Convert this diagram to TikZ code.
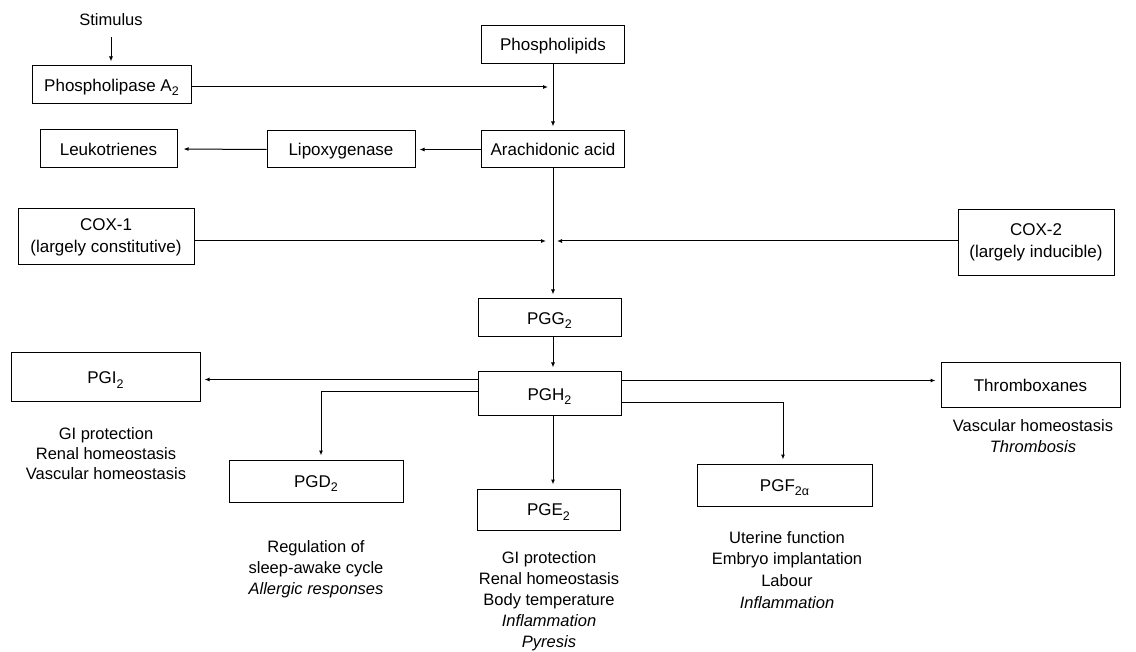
\documentclass[tikz,border=0pt]{standalone}
\usepackage{fontspec}
\setmainfont{Liberation Sans}
\usetikzlibrary{arrows.meta}
\newcommand\subs[1]{\raisebox{-4.5pt}{\fontsize{12.5}{13}\selectfont #1}}
\begin{document}
\begin{tikzpicture}[x=1pt,y=-1pt,
  box/.style={draw, line width=1pt, inner sep=0pt, align=center, font=\fontsize{17}{22}\selectfont},
  one/.style={text height=12.2pt, text depth=0pt},
  lbl/.style={inner sep=0pt, align=center, anchor=north, font=\fontsize{16.5}{21}\selectfont},
  arr/.style={line width=1pt, -{Latex[length=5pt,width=4pt]}, shorten >=4pt}]
\useasboundingbox (0,0) rectangle (1136,652);

% nodes
\node[inner sep=2pt, font=\fontsize{16.5}{20}\selectfont] (stim) at (111,20) {Stimulus};
\node[box, one, minimum width=159, minimum height=38] (pla) at (111.5,85) {Phospholipase A\subs{2}};
\node[box, one, minimum width=143, minimum height=38] (phl) at (553,44.5) {Phospholipids};
\node[box, one, minimum width=143, minimum height=37] (ara) at (553,149.5) {Arachidonic acid};
\node[box, one, minimum width=148, minimum height=37] (lip) at (341,149.5) {Lipoxygenase};
\node[box, one, minimum width=137, minimum height=38] (leu) at (108.5,149) {Leukotrienes};
\node[box, minimum width=176, minimum height=56] (cox1) at (106,237) {COX-1\\(largely constitutive)};
\node[box, minimum width=156, minimum height=66] (cox2) at (1036,242.5) {COX-2\\(largely inducible)};
\node[box, one, minimum width=143, minimum height=38] (pgg) at (549.5,318) {PGG\subs{2}};
\node[box, one, minimum width=143, minimum height=44] (pgh) at (549.5,394) {PGH\subs{2}};
\node[box, one, minimum width=189, minimum height=49] (pgi) at (105.5,377.5) {PGI\subs{2}};
\node[box, one, minimum width=174, minimum height=42] (pgd) at (316,481) {PGD\subs{2}};
\node[box, one, minimum width=143, minimum height=41] (pge) at (548.5,509.5) {PGE\subs{2}};
\node[box, one, minimum width=175, minimum height=42] (pgf) at (784.5,485) {PGF\subs{2α}};
\node[box, one, minimum width=179, minimum height=45] (tx) at (1030.5,385.5) {Thromboxanes};

% labels
\node[lbl, font=\fontsize{16.5}{20}\selectfont] (pgil) at (106,427) {GI protection\\Renal homeostasis\\Vascular homeostasis};
\node[lbl] (pgdl) at (316,540) {Regulation of\\sleep-awake cycle\\\textit{Allergic responses}};
\node[lbl] (pgel) at (549,551) {GI protection\\Renal homeostasis\\Body temperature\\\textit{Inflammation}\\\textit{Pyresis}};
\node[lbl, font=\fontsize{16.5}{21.7}\selectfont] (pgfl) at (787,531) {Uterine function\\Embryo implantation\\Labour\\\textit{Inflammation}};
\node[lbl] (txl) at (1033,419) {Vascular homeostasis\\\textit{Thrombosis}};

% junction points
\coordinate (j1) at (553,87);
\coordinate (j2) at (553,241);

% connectors
\draw[arr, shorten <=9pt] (stim) -- (stim |- pla.north);
\draw[arr, shorten >=5pt] (pla.east |- j1) -- (j1);
\draw[arr] (phl.south) -- (ara.north);
\draw[arr] (ara.west) -- (lip.east);
\draw[arr, shorten >=6pt] (lip.west) -- (leu.east);
\draw[arr] (ara.south) -- (ara.south |- pgg.north);
\draw[arr, shorten >=7pt] (cox1.east |- j2) -- (j2);
\draw[arr, shorten >=4pt] (cox2.west |- j2) -- (j2);
\draw[arr] (pgg.south -| ara.south) -- (pgh.north -| ara.south);

\path (pgh.north west) ++(0,8) coordinate (a1);
\path (pgh.north west) ++(0,20) coordinate (a2);
\path (pgh.north east) ++(0,9) coordinate (a3);
\path (pgh.north east) ++(0,31) coordinate (a4);
\draw[arr] (a1) -- (a1 -| pgi.east);
\draw[arr, shorten >=5pt] (a3) -- (a3 -| tx.west);
\draw[arr] (a2) -| ([xshift=5pt]pgd.north);
\draw[arr] (a4) -| ([xshift=-1.5pt]pgf.north);
\draw[arr] (pgh.south -| ara.south) -- (pge.north -| ara.south);
\end{tikzpicture}
\end{document}
